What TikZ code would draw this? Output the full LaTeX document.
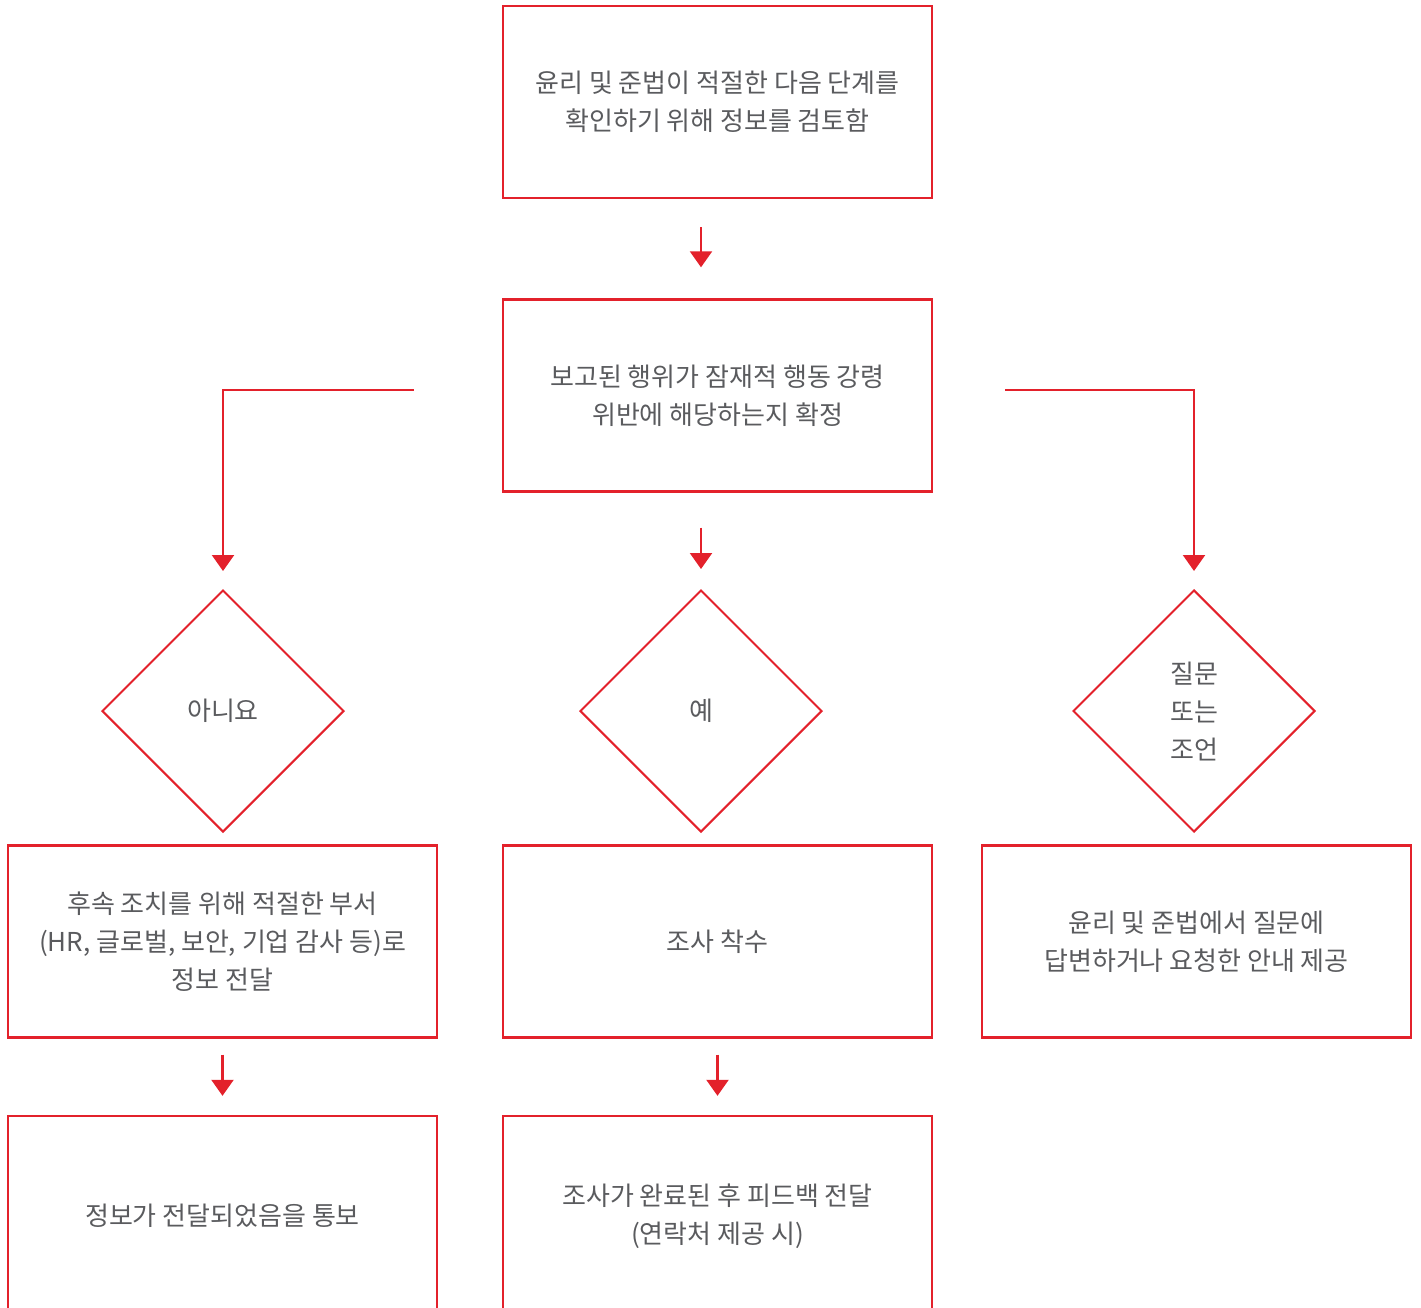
\documentclass[tikz,border=0pt]{standalone}
\usepackage{fontspec}
\newfontfamily\kr{Noto Sans CJK KR}
\usetikzlibrary{arrows.meta,shapes.geometric}
\definecolor{flowred}{HTML}{E3212B}
\definecolor{flowtext}{HTML}{5A5B5E}

\begin{document}
\begin{tikzpicture}[x=1pt,y=-1pt,
    stepbox/.style={draw=flowred,line width=2.4pt,minimum width=429pt,minimum height=192pt,
      align=center,text=flowtext,font=\kr\fontsize{26}{38}\selectfont},
    choice/.style={draw=flowred,line width=2pt,diamond,aspect=1,minimum width=242pt,
      minimum height=242pt,inner sep=0pt,align=center,text=flowtext,font=\kr\fontsize{26}{38}\selectfont},
    flow/.style={draw=flowred,line width=2.2pt,-{Triangle[width=22pt,length=16pt]}}]
  \path[use as bounding box] (0,0) rectangle (1421,1307);

  \node[stepbox] (review) at (717.5,102) {윤리 및 준법이 적절한 다음 단계를\\확인하기 위해 정보를 검토함};
  \node[stepbox] (decide) at (717.5,395.5) {보고된 행위가 잠재적 행동 강령\\위반에 해당하는지 확정};

  \node[choice] (no) at (223,711) {아니요};
  \node[choice] (yes) at (701,711) {예};
  \node[choice] (ask) at (1194,711) {질문\\또는\\조언};

  \node[stepbox] (forward) at (222.5,941.5) {후속 조치를 위해 적절한 부서\\(HR, 글로벌, 보안, 기업 감사 등)로\\정보 전달};
  \node[stepbox] (investigate) at (717.5,941.5) {조사 착수};
  \node[stepbox] (answer) at (1196.5,941.5) {윤리 및 준법에서 질문에\\답변하거나 요청한 안내 제공};

  \node[stepbox,minimum height=200pt] (notify) at (222.5,1216) {정보가 전달되었음을 통보};
  \node[stepbox,minimum height=200pt] (feedback) at (717.5,1216) {조사가 완료된 후 피드백 전달\\(연락처 제공 시)};

  \draw[flow,shorten <=28pt,shorten >=31pt] (review.south -| yes.north) -- (decide.north -| yes.north);
  \draw[flow,shorten <=35pt,shorten >=20pt] (decide.south -| yes.north) -- (yes.north);
  \draw[flow,shorten <=88pt,shorten >=18pt] ([yshift=5.5pt]decide.west) -| (no.north);
  \draw[flow,shorten <=72pt,shorten >=18pt] ([yshift=5.5pt]decide.east) -| (ask.north);

  \draw[flow,shorten <=16pt,shorten >=19pt] (forward.south) -- (notify.north);
  \draw[flow,shorten <=16pt,shorten >=19pt] (investigate.south) -- (feedback.north);
\end{tikzpicture}
\end{document}
